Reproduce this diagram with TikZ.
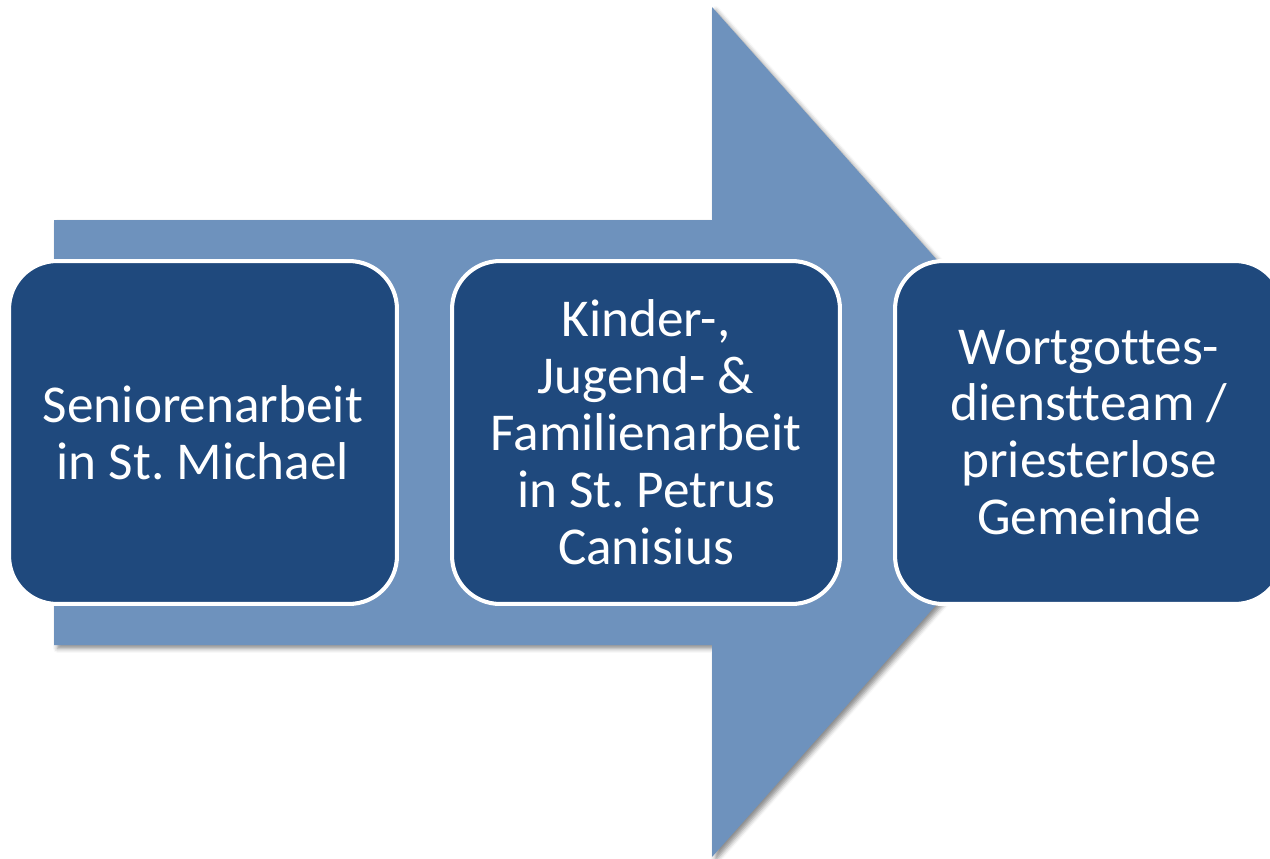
\documentclass[tikz,border=0pt]{standalone}
\usepackage{fontspec}
\setmainfont[Ligatures=NoCommon]{Carlito}
\usepackage{xcolor}
\usepackage{tikz}
\definecolor{diagNavy}{HTML}{1F497D}
\definecolor{diagSteel}{HTML}{6E92BD}
\definecolor{diagShade}{HTML}{5F5F5F}
\definecolor{diagWhite}{HTML}{FFFFFF}
\usetikzlibrary{shadows.blur}
\frenchspacing

\begin{document}
\begin{tikzpicture}[
  x=0.02cm, y=-0.02cm,
  font=\fontsize{30.3}{32.4}\selectfont,
  field/.style={draw=diagWhite, line width=2.3pt, rounded corners=0.96cm, minimum width=7.76cm, minimum height=6.86cm, align=center, inner sep=0pt, fill=diagNavy, text=diagWhite},
  backarrow/.style={fill=diagSteel, blur shadow={shadow xshift=2pt, shadow yshift=-2pt, shadow blur radius=2.5pt, shadow opacity=45}}
]
\useasboundingbox (0,0) rectangle (1270,858);

% Broad arrow behind the three fields
\path[backarrow] (54,220) -- (712,220) -- (712,7) -- (1090,432)
  -- (712,857) -- (712,645) -- (54,645) -- cycle;

% Fields, left to right
\node[field] (senior) at (203,432.5) {Seniorenarbeit\\in St. Michael};
\node[field] (family) at (646,432.5) {Kinder-,\\Jugend- \&\\Familienarbeit\\in St. Petrus\\Canisius};
\node[field] (service) at (1089,432.5) {Wortgottes-\\dienstteam /\\priesterlose\\Gemeinde};

\end{tikzpicture}
\end{document}
